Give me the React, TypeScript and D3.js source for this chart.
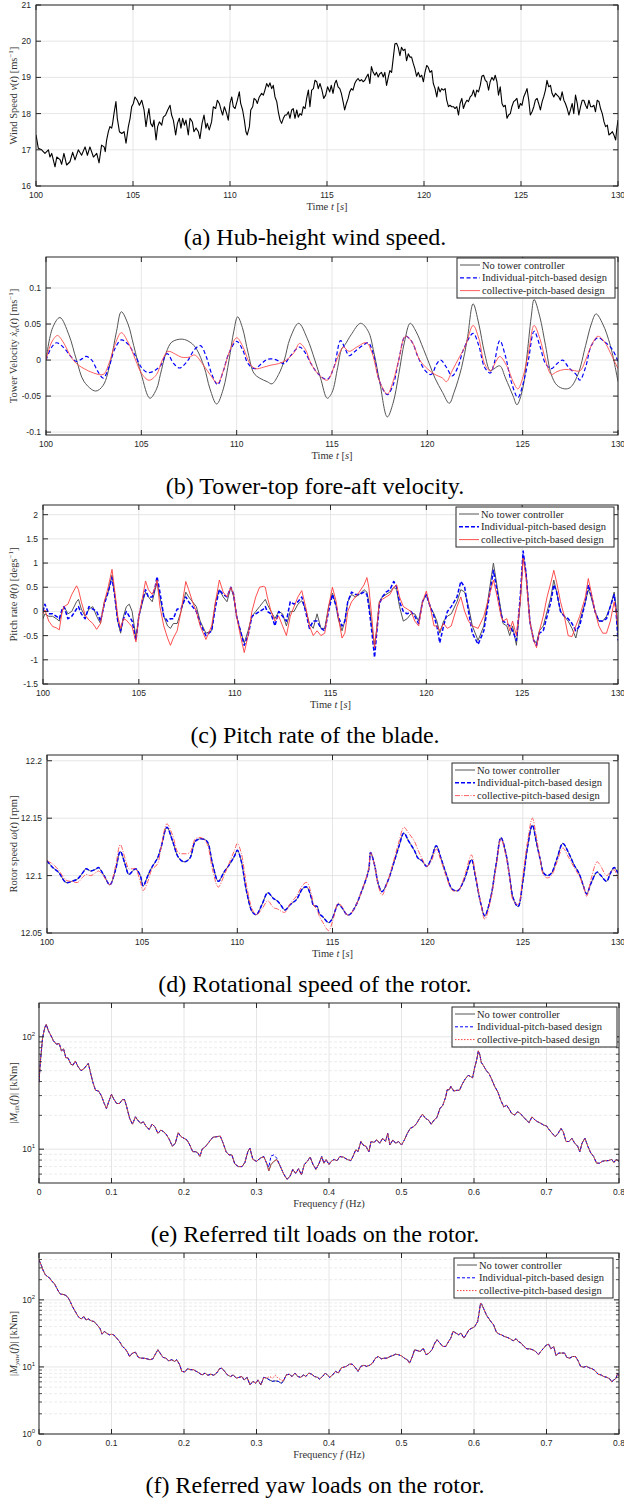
import React from 'react';
import * as d3 from 'd3';

type Pt = [number, number];

// (a) hub-height wind speed, [time s, speed m/s]
const windSpeed: Pt[] = [
  [100.0, 17.41], [100.12, 17.04], [100.29, 17.0], [100.46, 16.9], [100.64, 17.0], [100.72, 16.8], [100.81, 16.9], [100.98, 16.53],
  [101.07, 16.8], [101.24, 16.73], [101.32, 16.6], [101.44, 16.9], [101.58, 16.58], [101.75, 16.67], [101.89, 16.93], [102.01, 16.72],
  [102.18, 17.0], [102.35, 16.85], [102.53, 17.08], [102.65, 16.85], [102.78, 17.08], [102.96, 16.8], [103.13, 16.9], [103.25, 16.64],
  [103.38, 17.13], [103.51, 17.08], [103.57, 16.95], [103.64, 17.27], [103.73, 17.5], [103.81, 17.64], [103.9, 17.6], [103.95, 17.73],
  [104.02, 18.0], [104.12, 18.33], [104.19, 17.87], [104.3, 17.5], [104.42, 17.45], [104.54, 17.5], [104.64, 17.18], [104.76, 17.64],
  [104.85, 17.87], [104.93, 18.19], [105.02, 18.28], [105.1, 18.46], [105.22, 18.37], [105.33, 18.23], [105.45, 18.37], [105.57, 18.1],
  [105.67, 17.64], [105.74, 17.9], [105.82, 18.14], [105.91, 17.73], [106.01, 17.64], [106.08, 17.82], [106.19, 17.27], [106.27, 17.64],
  [106.36, 17.77], [106.48, 17.68], [106.56, 17.9], [106.68, 17.96], [106.79, 18.1], [106.91, 18.23], [106.99, 17.96], [107.08, 17.82],
  [107.2, 17.41], [107.29, 17.73], [107.39, 17.87], [107.47, 17.6], [107.56, 17.87], [107.65, 17.68], [107.73, 17.82], [107.85, 17.41],
  [107.94, 17.87], [108.06, 17.77], [108.14, 17.5], [108.25, 17.6], [108.37, 17.5], [108.45, 17.31], [108.56, 17.73], [108.66, 17.96],
  [108.76, 17.6], [108.83, 17.73], [108.93, 17.55], [109.05, 17.77], [109.14, 18.19], [109.26, 18.14], [109.35, 18.37], [109.45, 18.28],
  [109.54, 18.1], [109.62, 17.96], [109.71, 18.19], [109.83, 18.0], [109.91, 17.82], [110.0, 18.28], [110.09, 18.46], [110.17, 18.19],
  [110.26, 18.14], [110.38, 18.37], [110.48, 18.6], [110.55, 18.28], [110.65, 18.1], [110.74, 17.82], [110.82, 17.5], [110.89, 17.41],
  [111.0, 17.64], [111.07, 18.1], [111.17, 18.19], [111.24, 18.42], [111.34, 18.37], [111.41, 18.28], [111.51, 18.46], [111.63, 18.56],
  [111.72, 18.51], [111.8, 18.65], [111.89, 18.83], [111.98, 18.74], [112.06, 18.85], [112.15, 18.69], [112.23, 18.78], [112.32, 18.46],
  [112.41, 18.33], [112.49, 18.05], [112.58, 17.82], [112.66, 17.73], [112.75, 17.87], [112.84, 17.96], [112.92, 17.96], [113.01, 18.05],
  [113.09, 17.87], [113.18, 18.1], [113.26, 18.14], [113.35, 17.87], [113.44, 18.1], [113.52, 17.9], [113.61, 18.0], [113.69, 17.96],
  [113.78, 18.19], [113.87, 18.14], [113.95, 18.42], [114.04, 18.65], [114.12, 18.19], [114.21, 18.65], [114.3, 18.69], [114.38, 18.92],
  [114.47, 18.88], [114.55, 18.69], [114.64, 18.83], [114.74, 18.65], [114.83, 18.42], [114.93, 18.51], [115.03, 18.74], [115.14, 18.6],
  [115.22, 18.78], [115.31, 18.56], [115.4, 18.83], [115.48, 18.92], [115.57, 18.74], [115.66, 18.69], [115.74, 18.56], [115.83, 18.33],
  [115.91, 18.1], [116.0, 18.28], [116.09, 18.42], [116.17, 18.6], [116.26, 18.69], [116.34, 18.65], [116.43, 18.83], [116.52, 18.92],
  [116.6, 18.97], [116.69, 18.9], [116.78, 18.94], [116.86, 18.88], [116.95, 18.92], [117.03, 19.01], [117.12, 19.09], [117.21, 18.83],
  [117.29, 19.3], [117.38, 19.14], [117.47, 19.06], [117.55, 19.14], [117.64, 19.01], [117.72, 19.1], [117.81, 19.14], [117.9, 19.01],
  [117.98, 19.14], [118.07, 18.78], [118.16, 19.01], [118.24, 19.19], [118.33, 19.14], [118.41, 19.51], [118.5, 19.93], [118.59, 19.94],
  [118.67, 19.83], [118.76, 19.6], [118.84, 19.83], [118.93, 19.74], [119.02, 19.78], [119.1, 19.46], [119.19, 19.65], [119.28, 19.56],
  [119.36, 19.56], [119.45, 19.38], [119.53, 19.24], [119.62, 19.03], [119.71, 19.14], [119.79, 19.01], [119.88, 19.06], [119.97, 18.88],
  [120.05, 19.14], [120.14, 19.33], [120.22, 19.28], [120.31, 19.14], [120.4, 19.19], [120.48, 18.83], [120.57, 18.69], [120.66, 18.46],
  [120.74, 18.74], [120.83, 18.6], [120.91, 18.69], [121.0, 18.65], [121.09, 18.69], [121.17, 18.37], [121.26, 18.19], [121.34, 18.23],
  [121.43, 18.19], [121.52, 18.19], [121.6, 18.14], [121.69, 18.19], [121.78, 17.96], [121.86, 18.28], [121.95, 18.42], [122.03, 18.14],
  [122.12, 18.28], [122.21, 18.37], [122.29, 18.33], [122.38, 18.46], [122.47, 18.51], [122.55, 18.65], [122.64, 18.46], [122.72, 18.65],
  [122.81, 18.6], [122.9, 18.78], [122.98, 19.03], [123.07, 19.06], [123.16, 18.92], [123.24, 18.88], [123.33, 18.65], [123.41, 18.88],
  [123.5, 19.0], [123.59, 18.92], [123.67, 19.06], [123.76, 18.88], [123.84, 18.51], [123.93, 18.74], [124.02, 18.28], [124.1, 18.19],
  [124.19, 18.23], [124.28, 17.87], [124.36, 17.96], [124.45, 18.0], [124.53, 18.19], [124.62, 18.33], [124.71, 18.37], [124.79, 18.42],
  [124.88, 18.14], [124.97, 18.28], [125.05, 18.23], [125.14, 18.46], [125.22, 18.56], [125.31, 18.69], [125.4, 18.37], [125.48, 17.96],
  [125.57, 18.05], [125.66, 18.19], [125.74, 18.37], [125.83, 18.42], [125.91, 18.28], [126.0, 18.1], [126.09, 18.33], [126.17, 18.46],
  [126.26, 18.65], [126.34, 18.92], [126.43, 18.74], [126.52, 18.78], [126.6, 18.56], [126.69, 18.46], [126.78, 18.56], [126.86, 18.51],
  [126.95, 18.46], [127.03, 18.37], [127.12, 18.6], [127.21, 18.37], [127.29, 18.28], [127.38, 18.14], [127.47, 17.96], [127.55, 18.1],
  [127.64, 18.28], [127.72, 18.0], [127.81, 18.51], [127.9, 18.28], [127.98, 17.96], [128.07, 18.19], [128.16, 18.37], [128.24, 18.37],
  [128.33, 18.23], [128.41, 18.14], [128.5, 18.37], [128.59, 18.19], [128.67, 18.19], [128.76, 18.23], [128.84, 18.05], [128.93, 18.37],
  [129.02, 18.33], [129.1, 18.14], [129.19, 18.0], [129.28, 17.77], [129.36, 17.64], [129.45, 17.68], [129.53, 17.41], [129.62, 17.45],
  [129.71, 17.5], [129.79, 17.41], [129.88, 17.27], [129.93, 17.55], [130.0, 17.82],
];

// (b) tower-top fore-aft velocity, [time s, m/s]
const towerNoCtrl: Pt[] = [
  [100, 0], [100.35, 0.045], [100.73, 0.059], [101.2, 0.035], [101.6, 0], [102, -0.03], [102.6, -0.043], [103, -0.035],
  [103.4, 0], [103.7, 0.04], [103.95, 0.067], [104.3, 0.05], [104.6, 0.02], [105, -0.02], [105.45, -0.053], [105.8, -0.04],
  [106, -0.02], [106.3, 0.01], [106.6, 0.025], [107.15, 0.029], [107.6, 0.024], [107.9, 0.015], [108.3, -0.01], [108.6, -0.04],
  [108.95, -0.061], [109.3, -0.04], [109.6, 0], [109.85, 0.04], [110.05, 0.06], [110.3, 0.045], [110.6, 0.01], [110.9, -0.018],
  [111.2, -0.025], [111.6, -0.03], [111.85, -0.033], [112.2, -0.02], [112.5, 0], [112.8, 0.03], [113.25, 0.051], [113.7, 0.03],
  [114.1, 0], [114.4, -0.025], [114.75, -0.053], [115, -0.045], [115.3, -0.01], [115.5, 0.015], [115.7, 0.022], [116, 0.035],
  [116.5, 0.051], [116.9, 0.04], [117.2, 0.01], [117.5, -0.03], [117.9, -0.079], [118.2, -0.06], [118.5, -0.02], [118.8, 0.025],
  [119.1, 0.051], [119.4, 0.04], [119.8, 0.015], [120.1, -0.005], [120.4, -0.025], [120.8, -0.045], [121.15, -0.06], [121.4, -0.045],
  [121.8, -0.01], [122.1, 0.03], [122.4, 0.078], [122.7, 0.05], [123, 0.01], [123.3, -0.015], [123.5, -0.012], [123.8, -0.008],
  [124.1, -0.025], [124.5, -0.05], [124.7, -0.062], [125, -0.04], [125.2, 0], [125.45, 0.06], [125.6, 0.084], [125.9, 0.06],
  [126.2, 0.02], [126.5, -0.02], [126.8, -0.035], [127.2, -0.04], [127.5, -0.038], [127.9, -0.02], [128.3, 0.02], [128.6, 0.05],
  [128.85, 0.064], [129.2, 0.05], [129.6, 0.02], [130, -0.03],
];
const towerIndividual: Pt[] = [
  [100, 0], [100.3, 0.018], [100.55, 0.024], [100.9, 0.018], [101.3, 0.005], [101.6, -0.002], [101.9, 0.002], [102.1, 0.005],
  [102.4, 0], [102.7, -0.015], [103, -0.025], [103.3, -0.01], [103.6, 0.015], [103.95, 0.028], [104.3, 0.022], [104.7, 0.005],
  [105, -0.01], [105.3, -0.017], [105.6, -0.016], [106, -0.008], [106.35, 0.009], [106.7, -0.005], [107, -0.011], [107.4, -0.002],
  [107.8, 0.015], [108.1, 0.02], [108.4, 0.005], [108.7, -0.02], [109, -0.034], [109.3, -0.015], [109.6, 0.01], [110, 0.026],
  [110.3, 0.015], [110.6, -0.005], [110.95, -0.012], [111.3, -0.005], [111.6, 0.001], [112, 0.001], [112.3, -0.003], [112.5, -0.005],
  [112.8, 0.005], [113.3, 0.018], [113.6, 0.01], [113.9, -0.005], [114.3, -0.02], [114.75, -0.027], [115.1, -0.01], [115.45, 0.027],
  [115.7, 0.015], [115.9, 0.006], [116.2, 0.012], [116.6, 0.02], [116.9, 0.024], [117.2, 0.005], [117.5, -0.03], [117.9, -0.048],
  [118.2, -0.035], [118.5, 0], [118.85, 0.033], [119.2, 0.025], [119.5, 0.005], [119.9, -0.015], [120.2, -0.02], [120.5, -0.005],
  [120.7, 0], [121, -0.01], [121.3, -0.022], [121.6, -0.01], [121.9, 0.015], [122.4, 0.037], [122.7, 0.02], [123, -0.01],
  [123.3, -0.018], [123.5, -0.005], [123.8, 0.027], [124.1, 0.005], [124.4, -0.03], [124.75, -0.052], [125, -0.035], [125.3, 0],
  [125.6, 0.04], [125.9, 0.02], [126.2, -0.005], [126.5, -0.012], [126.8, -0.005], [127.1, 0], [127.4, -0.01], [127.8, -0.02],
  [128, -0.028], [128.3, -0.01], [128.6, 0.02], [128.95, 0.031], [129.3, 0.025], [129.7, 0.015], [130, -0.002],
];
const towerCollective: Pt[] = [
  [100, 0], [100.3, 0.025], [100.6, 0.034], [100.9, 0.025], [101.3, 0.005], [101.6, -0.005], [102, -0.012], [102.5, -0.018],
  [103, -0.02], [103.3, -0.005], [103.6, 0.02], [103.95, 0.038], [104.3, 0.025], [104.7, 0], [105, -0.018], [105.4, -0.028],
  [105.8, -0.02], [106.1, 0], [106.4, 0.012], [106.8, 0.008], [107.1, 0.004], [107.5, 0.004], [107.8, 0.007], [108.2, -0.005],
  [108.6, -0.02], [109, -0.032], [109.3, -0.015], [109.6, 0.01], [110, 0.031], [110.3, 0.02], [110.7, -0.005], [111, -0.012],
  [111.4, -0.01], [111.8, -0.007], [112.2, -0.005], [112.6, 0], [113, 0.01], [113.3, 0.023], [113.6, 0.015], [113.9, -0.005],
  [114.3, -0.02], [114.75, -0.028], [115.1, -0.01], [115.4, 0.01], [115.6, 0.018], [115.9, 0.012], [116.3, 0.018], [116.8, 0.024],
  [117.1, 0.01], [117.5, -0.03], [117.9, -0.047], [118.2, -0.03], [118.5, 0], [118.85, 0.033], [119.2, 0.025], [119.6, 0],
  [120, -0.012], [120.4, -0.02], [120.8, -0.025], [121, -0.03], [121.3, -0.015], [121.7, 0.005], [122, 0.02], [122.4, 0.048],
  [122.7, 0.03], [123, -0.005], [123.3, -0.015], [123.6, -0.002], [123.8, 0.005], [124.2, -0.01], [124.5, -0.03], [124.75, -0.04],
  [125, -0.025], [125.3, 0.01], [125.6, 0.048], [125.9, 0.03], [126.2, 0], [126.5, -0.02], [126.8, -0.016], [127.2, -0.013],
  [127.6, -0.014], [128, -0.015], [128.3, 0], [128.6, 0.02], [128.95, 0.033], [129.3, 0.025], [129.6, 0.01], [130, -0.012],
];

// (c) blade pitch rate, deg/s
const pitchTime = [
  100.0, 100.1, 100.3, 100.5, 100.7, 100.85, 101.0, 101.1, 101.3, 101.5,
  101.75, 101.85, 102.0, 102.2, 102.4, 102.6, 102.8, 103.0, 103.2, 103.4,
  103.6, 103.75, 103.9, 104.05, 104.2, 104.35, 104.5, 104.65, 104.85, 105.0,
  105.2, 105.35, 105.5, 105.7, 105.85, 105.95, 106.1, 106.3, 106.5, 106.65,
  106.8, 107.0, 107.2, 107.45, 107.6, 107.8, 108.0, 108.2, 108.5, 108.8,
  109.0, 109.2, 109.4, 109.6, 109.8, 109.95, 110.1, 110.3, 110.5, 110.7,
  110.9, 111.1, 111.3, 111.5, 111.6, 111.7, 111.9, 112.1, 112.3, 112.5,
  112.7, 112.9, 113.1, 113.3, 113.5, 113.7, 113.9, 114.1, 114.3, 114.5,
  114.7, 114.9, 115.1, 115.3, 115.4, 115.6, 115.75, 115.9, 116.1, 116.3,
  116.5, 116.75, 116.9, 117.0, 117.15, 117.3, 117.4, 117.55, 117.7, 117.9,
  118.1, 118.3, 118.45, 118.6, 118.8, 119.0, 119.2, 119.4, 119.6, 119.8,
  120.0, 120.2, 120.4, 120.55, 120.7, 120.9, 121.1, 121.3, 121.6, 121.8,
  122.0, 122.2, 122.4, 122.7, 123.0, 123.2, 123.5, 123.7, 123.9, 124.0,
  124.2, 124.35, 124.5, 124.7, 124.9, 125.05, 125.2, 125.4, 125.6, 125.75,
  125.9, 126.1, 126.3, 126.5, 126.65, 126.8, 127.0, 127.2, 127.4, 127.6,
  127.8, 128.0, 128.3, 128.45, 128.6, 128.8, 129.0, 129.2, 129.4, 129.6,
  129.8, 129.9, 130.0,
];
const pitchNoCtrl = [
  -0.15, -0.05, -0.1, -0.1, -0.15, -0.2, 0.0, 0.1, -0.05, 0.0,
  0.2, 0.25, 0.05, -0.1, 0.05, 0.1, -0.1, -0.25, 0.2, 0.4,
  0.75, 0.3, -0.2, -0.45, -0.1, 0.1, 0.15, 0.0, -0.55, -0.1,
  0.2, 0.4, 0.3, 0.2, 0.45, 0.6, 0.3, -0.1, -0.3, -0.35,
  -0.25, -0.25, 0.0, 0.4, 0.3, 0.2, 0.1, -0.2, -0.45, -0.4,
  0.2, 0.45, 0.3, 0.2, 0.5, 0.3, -0.1, -0.4, -0.65, -0.4,
  -0.1, 0.0, 0.1, 0.2, 0.25, 0.15, 0.0, -0.15, 0.0, -0.05,
  -0.3, 0.0, 0.0, 0.15, 0.22, 0.05, -0.25, -0.35, -0.05, -0.35,
  -0.35, 0.1, 0.38, 0.1, -0.15, -0.4, -0.2, 0.2, 0.35, 0.3,
  0.35, 0.45, 0.4, 0.2, -0.3, -0.7, -0.4, 0.2, 0.3, 0.35,
  0.4, 0.5, 0.45, 0.1, -0.2, -0.15, -0.05, -0.05, -0.2, 0.2,
  0.35, 0.1, -0.05, -0.2, -0.45, -0.2, -0.1, -0.05, 0.2, 0.45,
  0.4, 0.1, -0.3, -0.6, -0.3, 0.2, 1.0, 0.5, 0.0, -0.25,
  -0.3, -0.5, -0.3, -0.7, 0.2, 1.15, 0.8, -0.2, -0.6, -0.65,
  -0.4, -0.3, 0.0, 0.3, 0.65, 0.4, 0.0, -0.1, -0.2, -0.35,
  -0.55, -0.2, 0.2, 0.45, 0.3, 0.0, -0.2, -0.2, -0.1, 0.1,
  0.4, 0.1, -0.5,
];
const pitchIndividual = [
  0.0, 0.15, -0.05, -0.05, -0.1, -0.15, 0.05, 0.1, -0.15, -0.1,
  0.05, 0.1, -0.05, -0.15, 0.1, 0.05, 0.0, -0.2, 0.15, 0.4,
  0.7, 0.3, -0.2, -0.4, -0.15, 0.0, -0.1, -0.2, -0.6, -0.1,
  0.25, 0.45, 0.3, 0.3, 0.5, 0.72, 0.4, -0.1, -0.2, -0.15,
  -0.15, 0.05, 0.05, 0.3, 0.2, 0.1, 0.0, -0.25, -0.5, -0.4,
  0.1, 0.45, 0.35, 0.3, 0.5, 0.35, -0.1, -0.4, -0.7, -0.5,
  -0.1, -0.05, 0.0, 0.05, 0.1, 0.0, -0.05, -0.3, 0.0, -0.1,
  -0.2, 0.2, 0.15, 0.2, 0.3, 0.0, -0.35, -0.2, -0.2, -0.35,
  -0.4, 0.0, 0.35, 0.1, -0.1, -0.3, -0.2, 0.2, 0.4, 0.35,
  0.35, 0.4, 0.35, 0.1, -0.4, -0.95, -0.5, 0.15, 0.3, 0.4,
  0.45, 0.62, 0.5, 0.2, 0.0, -0.05, 0.0, -0.1, -0.25, 0.2,
  0.35, 0.1, -0.1, -0.3, -0.65, -0.3, 0.0, 0.1, 0.3, 0.62,
  0.5, 0.0, -0.45, -0.68, -0.4, 0.1, 0.85, 0.4, -0.05, -0.2,
  -0.25, -0.3, -0.4, -0.6, 0.3, 1.25, 0.8, -0.2, -0.6, -0.7,
  -0.45, -0.4, -0.1, 0.2, 0.55, 0.4, 0.0, -0.1, -0.15, -0.25,
  -0.4, -0.3, 0.2, 0.55, 0.35, 0.0, -0.2, -0.2, -0.15, 0.1,
  0.35, 0.0, -0.6,
];
const pitchCollective = [
  -0.05, 0.03, -0.2, -0.31, -0.34, -0.38, 0.0, 0.1, 0.15, 0.35,
  0.53, 0.45, 0.2, -0.08, -0.18, -0.25, -0.37, -0.25, 0.2, 0.5,
  0.87, 0.4, -0.1, -0.35, -0.15, -0.18, -0.25, -0.32, -0.63, -0.1,
  0.3, 0.63, 0.45, 0.35, 0.5, 0.65, 0.1, -0.3, -0.55, -0.7,
  -0.55, -0.4, 0.0, 0.62, 0.45, 0.2, 0.0, -0.3, -0.58, -0.3,
  0.2, 0.65, 0.4, 0.3, 0.5, 0.35, -0.1, -0.5, -0.85, -0.5,
  0.0, 0.3, 0.5, 0.52, 0.5, 0.3, 0.0, -0.2, -0.1, -0.3,
  -0.5, -0.1, 0.1, 0.3, 0.43, 0.1, -0.3, -0.5, -0.4, -0.5,
  -0.45, 0.1, 0.5, 0.2, -0.1, -0.55, -0.45, 0.0, 0.2, 0.3,
  0.4, 0.55, 0.7, 0.5, -0.1, -0.75, -0.4, 0.2, 0.25, 0.3,
  0.35, 0.5, 0.55, 0.3, 0.1, 0.05, 0.0, -0.2, -0.3, 0.2,
  0.42, 0.1, -0.3, -0.3, -0.4, -0.25, -0.35, -0.3, 0.1, 0.3,
  0.0, -0.2, -0.3, -0.35, -0.1, 0.2, 0.65, 0.3, -0.1, -0.2,
  -0.15, -0.4, -0.2, -0.5, 0.2, 1.1, 0.7, -0.2, -0.6, -0.75,
  -0.4, -0.1, 0.3, 0.6, 0.85, 0.6, 0.2, -0.1, -0.5, -0.52,
  -0.3, -0.1, 0.3, 0.68, 0.4, 0.0, -0.3, -0.45, -0.45, -0.2,
  0.2, 0.0, -0.3,
];

// (d) rotor speed, rpm (no-controller trace coincides with the individual-pitch one)
const rotorTime = [
  100.0, 100.3, 100.6, 101.0, 101.3, 101.6, 101.9, 102.05, 102.3, 102.6,
  102.7, 103.0, 103.3, 103.6, 103.85, 104.1, 104.3, 104.5, 104.65, 104.9,
  105.05, 105.3, 105.5, 105.8, 106.0, 106.3, 106.6, 106.9, 107.2, 107.5,
  107.8, 108.1, 108.4, 108.7, 109.0, 109.3, 109.6, 109.85, 110.0, 110.2,
  110.5, 110.8, 111.0, 111.3, 111.6, 111.9, 112.1, 112.3, 112.5, 112.8,
  113.1, 113.45, 113.65, 113.9, 114.0, 114.2, 114.3, 114.5, 114.8, 115.0,
  115.3, 115.5, 115.75, 115.9, 116.2, 116.5, 116.9, 117.0, 117.2, 117.4,
  117.6, 117.9, 118.2, 118.5, 118.75, 119.0, 119.3, 119.5, 119.7, 119.95,
  120.2, 120.45, 120.7, 121.0, 121.3, 121.6, 121.8, 122.0, 122.3, 122.5,
  122.8, 123.0, 123.3, 123.6, 123.85, 124.1, 124.3, 124.5, 124.75, 125.0,
  125.25, 125.5, 125.7, 125.9, 126.1, 126.3, 126.5, 126.8, 127.1, 127.4,
  127.7, 127.95, 128.2, 128.35, 128.6, 128.9, 129.1, 129.4, 129.6, 129.8,
  130.0,
];
const rotorIndividual = [
  12.113, 12.107, 12.103, 12.094, 12.095, 12.097, 12.103, 12.106, 12.104, 12.106,
  12.107, 12.1, 12.092, 12.105, 12.121, 12.11, 12.101, 12.104, 12.106, 12.1,
  12.091, 12.1, 12.107, 12.115, 12.125, 12.142, 12.13, 12.116, 12.112, 12.115,
  12.13, 12.132, 12.13, 12.11, 12.095, 12.103, 12.11, 12.117, 12.122, 12.113,
  12.085, 12.068, 12.066, 12.075, 12.085, 12.08, 12.078, 12.074, 12.07, 12.075,
  12.079, 12.089, 12.09, 12.08, 12.074, 12.073, 12.067, 12.064, 12.059, 12.063,
  12.075, 12.072, 12.066, 12.066, 12.073, 12.085, 12.105, 12.12, 12.11, 12.093,
  12.086, 12.095, 12.11, 12.126, 12.137, 12.13, 12.122, 12.115, 12.113, 12.108,
  12.115, 12.126, 12.115, 12.1, 12.088, 12.087, 12.092, 12.1, 12.114, 12.1,
  12.075, 12.065, 12.08, 12.11, 12.133, 12.12, 12.1, 12.08, 12.073, 12.095,
  12.125, 12.144, 12.13, 12.115, 12.102, 12.1, 12.102, 12.115, 12.128, 12.12,
  12.109, 12.102, 12.09, 12.084, 12.094, 12.103, 12.1, 12.095, 12.102, 12.107,
  12.102,
];
const rotorNoCtrl = rotorIndividual;
const rotorCollective = [
  12.113, 12.11, 12.105, 12.096, 12.095, 12.094, 12.099, 12.101, 12.1, 12.103,
  12.104, 12.099, 12.092, 12.108, 12.127, 12.115, 12.106, 12.106, 12.106, 12.095,
  12.087, 12.095, 12.105, 12.11, 12.125, 12.145, 12.135, 12.12, 12.119, 12.12,
  12.132, 12.133, 12.128, 12.105, 12.09, 12.1, 12.112, 12.122, 12.128, 12.12,
  12.09, 12.07, 12.066, 12.071, 12.078, 12.072, 12.071, 12.069, 12.068, 12.076,
  12.082, 12.092, 12.094, 12.083, 12.075, 12.07, 12.065, 12.059, 12.052, 12.06,
  12.076, 12.073, 12.066, 12.066, 12.073, 12.085, 12.106, 12.12, 12.11, 12.092,
  12.083, 12.095, 12.112, 12.13, 12.142, 12.137, 12.13, 12.122, 12.115, 12.108,
  12.113, 12.123, 12.113, 12.098, 12.087, 12.087, 12.093, 12.103, 12.118, 12.102,
  12.075, 12.062, 12.078, 12.108, 12.132, 12.118, 12.1, 12.078, 12.075, 12.1,
  12.13, 12.15, 12.135, 12.115, 12.1, 12.098, 12.1, 12.112, 12.124, 12.116,
  12.107, 12.1, 12.09, 12.082, 12.098, 12.112, 12.108, 12.1, 12.103, 12.105,
  12.097,
];

// (e) tilt load spectrum, [f Hz, kNm]
const tiltNoCtrl: Pt[] = [
  [0, 39.5], [0.002, 61], [0.005, 98.6], [0.008, 121], [0.01, 129], [0.013, 113], [0.015, 107], [0.02, 92],
  [0.024, 86], [0.028, 87], [0.031, 75], [0.034, 78], [0.037, 65], [0.04, 65], [0.044, 57], [0.047, 56],
  [0.05, 61], [0.054, 54], [0.058, 50], [0.062, 52], [0.065, 55], [0.068, 58], [0.071, 48], [0.074, 40],
  [0.078, 33.4], [0.082, 33], [0.086, 30], [0.09, 25.5], [0.093, 23], [0.096, 26.3], [0.1, 30.8], [0.103, 28],
  [0.107, 25.5], [0.111, 25.5], [0.115, 27.6], [0.118, 27.6], [0.121, 23.8], [0.125, 18.8], [0.129, 16.7], [0.133, 19.4],
  [0.136, 18.2], [0.14, 17], [0.144, 17.5], [0.148, 15.8], [0.152, 15], [0.156, 16.7], [0.16, 15.8], [0.164, 13.8],
  [0.168, 14.8], [0.172, 14.3], [0.176, 13.4], [0.18, 12.1], [0.184, 10.6], [0.188, 11.3], [0.192, 14], [0.196, 12.9],
  [0.2, 12.5], [0.204, 12.1], [0.208, 10.9], [0.212, 9.5], [0.216, 9.5], [0.219, 9.3], [0.222, 8.6], [0.225, 10],
  [0.23, 10.6], [0.235, 11.7], [0.24, 12.8], [0.245, 12.9], [0.25, 13.1], [0.254, 11.3], [0.258, 9.5], [0.262, 8.9],
  [0.266, 8.9], [0.27, 7.4], [0.275, 7], [0.28, 7], [0.284, 7.6], [0.288, 9.5], [0.291, 10.2], [0.295, 8.1],
  [0.3, 7.8], [0.305, 8.3], [0.31, 8.6], [0.314, 7.5], [0.317, 6.4], [0.32, 7.3], [0.324, 7.8], [0.328, 8.1],
  [0.333, 7], [0.337, 6.1], [0.342, 5.4], [0.346, 5.7], [0.35, 6.6], [0.354, 6.1], [0.358, 6.7], [0.362, 5.9],
  [0.366, 7.3], [0.37, 7.8], [0.374, 8.5], [0.378, 7.3], [0.382, 6.6], [0.386, 7.4], [0.39, 8.6], [0.393, 7.5],
  [0.396, 8.1], [0.4, 7.3], [0.403, 7.8], [0.407, 8.1], [0.411, 7.9], [0.415, 8.6], [0.42, 8.5], [0.425, 8.1],
  [0.43, 7.9], [0.433, 8.6], [0.437, 9.9], [0.44, 9.5], [0.444, 11.7], [0.447, 10.9], [0.451, 10.6], [0.455, 9.5],
  [0.458, 11.7], [0.462, 11.5], [0.466, 12.1], [0.47, 11.3], [0.474, 12.5], [0.478, 11.7], [0.481, 13.8], [0.484, 10.9],
  [0.488, 12.1], [0.492, 11.3], [0.496, 11.7], [0.5, 10.9], [0.504, 12.1], [0.508, 13.8], [0.512, 15.3], [0.517, 15.9],
  [0.521, 17], [0.525, 18.8], [0.529, 20.5], [0.533, 18.8], [0.537, 18.2], [0.541, 16.7], [0.545, 18.2], [0.549, 19.2],
  [0.553, 23], [0.557, 24.6], [0.561, 29.1], [0.563, 33.8], [0.566, 33.8], [0.568, 36.2], [0.572, 32.9], [0.576, 33.4],
  [0.58, 33.4], [0.584, 38.2], [0.588, 42.3], [0.592, 45.4], [0.595, 44.4], [0.598, 43.2], [0.601, 53.5], [0.604, 63.5],
  [0.606, 75], [0.608, 69.3], [0.61, 59.3], [0.613, 55.4], [0.617, 50.1], [0.621, 46.8], [0.625, 40.9], [0.629, 35.7],
  [0.633, 32.2], [0.637, 27.2], [0.641, 23.8], [0.645, 24.6], [0.648, 23], [0.652, 20.8], [0.656, 20.1], [0.66, 21.5],
  [0.664, 20.8], [0.668, 19.4], [0.672, 18.2], [0.676, 17.2], [0.68, 19.4], [0.684, 18.2], [0.688, 17.5], [0.692, 17],
  [0.696, 16.4], [0.7, 16.1], [0.704, 14.8], [0.708, 13.8], [0.712, 12.9], [0.716, 13.8], [0.72, 15.3], [0.723, 14.3],
  [0.727, 11.7], [0.731, 11.7], [0.735, 12.5], [0.739, 11.3], [0.743, 10.6], [0.746, 9.5], [0.749, 11.3], [0.753, 12.5],
  [0.757, 10.6], [0.761, 9.3], [0.765, 8.6], [0.769, 7.5], [0.773, 7.5], [0.777, 7.8], [0.781, 7.9], [0.785, 7.9],
  [0.79, 8.1], [0.793, 7.6], [0.796, 8.1], [0.8, 7.8],
];
// points where the individual-pitch trace leaves the others
const tiltIndividualDiff: Pt[] = [[0.317, 6.9], [0.32, 8.7], [0.324, 8.9], [0.328, 8.3]];

// (f) yaw load spectrum, [f Hz, kNm]
const yawNoCtrl: Pt[] = [
  [0, 394], [0.003, 332], [0.006, 270], [0.009, 235], [0.012, 222], [0.015, 210], [0.018, 188], [0.021, 177],
  [0.024, 153], [0.027, 133], [0.03, 121], [0.033, 121], [0.036, 118], [0.039, 112], [0.042, 100], [0.046, 80],
  [0.05, 67], [0.054, 56.5], [0.058, 52], [0.062, 56.5], [0.065, 50], [0.068, 52], [0.072, 48.6], [0.076, 47.5],
  [0.08, 42.4], [0.084, 37.8], [0.087, 30.8], [0.09, 33.8], [0.094, 31.5], [0.097, 30.1], [0.1, 30.8], [0.103, 30.1],
  [0.107, 26.9], [0.111, 24], [0.115, 20.2], [0.119, 18.6], [0.122, 16.6], [0.125, 14.3], [0.129, 16.1], [0.133, 16.6],
  [0.137, 13.9], [0.141, 13.5], [0.145, 13.5], [0.149, 13.2], [0.153, 12.8], [0.157, 13.2], [0.16, 15.2], [0.164, 18],
  [0.167, 16.1], [0.171, 13.9], [0.175, 13.5], [0.179, 12.3], [0.183, 12.8], [0.187, 12.1], [0.19, 12.8], [0.194, 10.8],
  [0.197, 8.6], [0.201, 8.4], [0.205, 9.4], [0.209, 9.1], [0.213, 9.1], [0.217, 8.6], [0.221, 8.1], [0.225, 7.6],
  [0.229, 8.1], [0.233, 7.5], [0.237, 7.8], [0.241, 7.5], [0.245, 8.1], [0.249, 9.4], [0.252, 9.6], [0.256, 8.6],
  [0.26, 7.6], [0.264, 7.2], [0.268, 7.6], [0.272, 6.8], [0.276, 7], [0.28, 7.2], [0.283, 6.4], [0.287, 7],
  [0.291, 5.4], [0.295, 6.1], [0.299, 5.7], [0.302, 6.4], [0.306, 5.4], [0.31, 7], [0.314, 6.8], [0.318, 7.2],
  [0.322, 6.8], [0.326, 7.5], [0.33, 6.8], [0.334, 6.4], [0.337, 6.1], [0.341, 7.6], [0.345, 7.8], [0.349, 7.2],
  [0.353, 8.1], [0.357, 7.2], [0.361, 7], [0.365, 7.6], [0.368, 7.2], [0.372, 8.1], [0.376, 7.8], [0.38, 7.2],
  [0.384, 7], [0.387, 6.6], [0.391, 7.2], [0.395, 8.1], [0.398, 7.5], [0.401, 7], [0.405, 7.6], [0.409, 8.6],
  [0.413, 8.1], [0.417, 9.7], [0.42, 9.9], [0.424, 10.2], [0.428, 11], [0.432, 11], [0.436, 9.9], [0.44, 8.6],
  [0.444, 10.2], [0.448, 10.6], [0.452, 10.2], [0.456, 10.6], [0.46, 11.4], [0.464, 13.5], [0.468, 14.3], [0.472, 13.2],
  [0.476, 13.5], [0.48, 13.5], [0.484, 14.3], [0.488, 14.8], [0.492, 15.5], [0.496, 15.2], [0.5, 14.6], [0.504, 13.5],
  [0.508, 12.8], [0.511, 11.4], [0.515, 14.3], [0.518, 18], [0.522, 17.5], [0.526, 17], [0.53, 19], [0.534, 15.2],
  [0.538, 16.1], [0.542, 18], [0.546, 22.7], [0.549, 25.4], [0.553, 22.7], [0.557, 20.2], [0.561, 20.2], [0.565, 24],
  [0.568, 26.9], [0.571, 33.9], [0.575, 32], [0.579, 30.1], [0.582, 32], [0.586, 26.9], [0.589, 30.1], [0.593, 35.8],
  [0.597, 37.8], [0.601, 40], [0.605, 47.5], [0.607, 63.3], [0.609, 89.5], [0.611, 84.5], [0.614, 71.1], [0.617, 59.9],
  [0.62, 53.3], [0.624, 46.4], [0.627, 42.4], [0.631, 32.9], [0.635, 30.8], [0.638, 30.1], [0.642, 28.4], [0.646, 27.5],
  [0.65, 26.3], [0.654, 24.5], [0.658, 26.3], [0.661, 24], [0.665, 22.7], [0.669, 20.2], [0.673, 18.6], [0.677, 18.6],
  [0.681, 18], [0.685, 17], [0.689, 15.2], [0.692, 17], [0.696, 19], [0.7, 21.3], [0.703, 21.8], [0.706, 18.6],
  [0.71, 20.2], [0.713, 14.8], [0.717, 16.1], [0.721, 16.1], [0.725, 16.1], [0.728, 13.9], [0.732, 13.5], [0.736, 14.3],
  [0.74, 14.3], [0.744, 12.1], [0.747, 10.2], [0.751, 9.9], [0.755, 10.2], [0.759, 9.7], [0.763, 9.4], [0.767, 8.8],
  [0.771, 7.8], [0.775, 7.6], [0.779, 7.2], [0.783, 7], [0.787, 6.7], [0.79, 6], [0.793, 6.4], [0.796, 6.8],
  [0.798, 8.1], [0.8, 7.2],
];
const yawIndividualDiff: Pt[] = [[0.318, 6.4], [0.322, 6.1], [0.326, 6.2], [0.33, 6.1], [0.334, 5.7]];

const timeTicks = [100, 105, 110, 115, 120, 125, 130];
const freqTicks = [0, 0.1, 0.2, 0.3, 0.4, 0.5, 0.6, 0.7, 0.8];
const windTicks = [16, 17, 18, 19, 20, 21];
const towerTicks = [-0.1, -0.05, 0, 0.05, 0.1];
const pitchTicks = [-1.5, -1, -0.5, 0, 0.5, 1, 1.5, 2];
const rotorTicks = [12.05, 12.1, 12.15, 12.2];
const tiltTicks = [10, 100];
const yawTicks = [1, 10, 100];
const legendLabels = ['No tower controller', 'Individual-pitch-based design', 'collective-pitch-based design'];

const SANS = "'Liberation Sans', Arial, Helvetica, sans-serif";
const SERIF = "'Liberation Serif', 'Times New Roman', serif";
const AXIS = '#262626';
const GRID = '#dfdfdf';

const zip = (t: number[], v: number[]): Pt[] => t.map((d, i) => [d, v[i]]);
const patch = (base: Pt[], diff: Pt[]): Pt[] =>
  base.map(([f, v]) => {
    const m = diff.find(p => p[0] === f);
    return [f, m ? m[1] : v] as Pt;
  });

interface SeriesSpec {
  data: Pt[];
  color: string;
  width: number;
  dash?: string;
  label?: string;
}

interface PanelSpec {
  id: string;
  top: number;
  bottom: number;
  left: number;
  right: number;
  xDomain: [number, number];
  yDomain: [number, number];
  xTicks: number[];
  yTicks: number[];
  log?: boolean;
  curve?: d3.CurveFactory;
  yLabel: React.ReactNode;
  xLabel: React.ReactNode;
  caption: string;
  series: SeriesSpec[];
  legend?: { x: number; y: number; w: number };
}

function Panel({ p }: { p: PanelSpec }) {
  const { top, bottom, left, right } = p;
  const x = d3.scaleLinear().domain(p.xDomain).range([left, right]);
  const y = p.log
    ? d3.scaleLog().domain(p.yDomain).range([bottom, top])
    : d3.scaleLinear().domain(p.yDomain).range([bottom, top]);
  const line = d3
    .line<Pt>()
    .x(d => x(d[0]))
    .y(d => y(d[1]))
    .curve(p.curve || d3.curveLinear);

  // minor log ticks 2..9 per decade inside the domain
  const minor: number[] = [];
  if (p.log) {
    const lo = Math.floor(Math.log10(p.yDomain[0]));
    const hi = Math.ceil(Math.log10(p.yDomain[1]));
    for (let k = lo; k <= hi; k++)
      for (let m = 2; m <= 9; m++) {
        const v = m * Math.pow(10, k);
        if (v > p.yDomain[0] && v < p.yDomain[1]) minor.push(v);
      }
  }
  const tl = 5;
  const cy = (top + bottom) / 2;
  const cx = (left + right) / 2;

  return (
    <g>
      <defs>
        <clipPath id={p.id}>
          <rect x={left} y={top} width={right - left} height={bottom - top} />
        </clipPath>
      </defs>
      <rect x={left} y={top} width={right - left} height={bottom - top} fill="#fff" />
      {minor.map(v => (
        <line key={'mg' + v} x1={left} x2={right} y1={y(v)} y2={y(v)} stroke="#e4e4e4" strokeWidth={0.7} strokeDasharray="3,2" />
      ))}
      {p.xTicks.map(v => (
        <line key={'xg' + v} x1={x(v)} x2={x(v)} y1={top} y2={bottom} stroke={GRID} strokeWidth={0.8} />
      ))}
      {p.yTicks.map(v => (
        <line key={'yg' + v} x1={left} x2={right} y1={y(v)} y2={y(v)} stroke={GRID} strokeWidth={0.8} />
      ))}
      <g clipPath={`url(#${p.id})`}>
        {p.series.map((s, i) => (
          <path
            key={i}
            d={line(s.data) || ''}
            fill="none"
            stroke={s.color}
            strokeWidth={s.width}
            strokeDasharray={s.dash}
            strokeLinejoin="round"
          />
        ))}
      </g>
      <rect x={left} y={top} width={right - left} height={bottom - top} fill="none" stroke={AXIS} strokeWidth={1} />
      {p.xTicks.map(v => (
        <g key={'xt' + v}>
          <line x1={x(v)} x2={x(v)} y1={bottom} y2={bottom - tl} stroke={AXIS} />
          <line x1={x(v)} x2={x(v)} y1={top} y2={top + tl} stroke={AXIS} />
          <text x={x(v)} y={bottom + 12} textAnchor="middle" fontFamily={SANS} fontSize={8.5} fill={AXIS}>
            {String(v)}
          </text>
        </g>
      ))}
      {p.yTicks.map(v => (
        <g key={'yt' + v}>
          <line x1={left} x2={left + tl} y1={y(v)} y2={y(v)} stroke={AXIS} />
          <line x1={right} x2={right - tl} y1={y(v)} y2={y(v)} stroke={AXIS} />
          {p.log ? (
            <text x={left - 4} y={y(v) + 3} textAnchor="end" fontFamily={SANS} fontSize={8.5} fill={AXIS}>
              10
              <tspan dy={-4} fontSize={6}>
                {String(Math.round(Math.log10(v)))}
              </tspan>
            </text>
          ) : (
            <text x={left - 5} y={y(v) + 3} textAnchor="end" fontFamily={SANS} fontSize={8.5} fill={AXIS}>
              {String(v)}
            </text>
          )}
        </g>
      ))}
      {minor.map(v => (
        <g key={'mt' + v}>
          <line x1={left} x2={left + 3} y1={y(v)} y2={y(v)} stroke={AXIS} strokeWidth={0.8} />
          <line x1={right} x2={right - 3} y1={y(v)} y2={y(v)} stroke={AXIS} strokeWidth={0.8} />
        </g>
      ))}
      <text
        transform={`translate(17,${cy}) rotate(-90)`}
        textAnchor="middle"
        fontFamily={SERIF}
        fontSize={10.5}
        fill="#333"
      >
        {p.yLabel}
      </text>
      <text x={cx} y={bottom + 24} textAnchor="middle" fontFamily={SERIF} fontSize={10.5} fill="#333">
        {p.xLabel}
      </text>
      {p.legend && (
        <g>
          <rect x={p.legend.x} y={p.legend.y} width={p.legend.w} height={40} fill="#fff" stroke={AXIS} strokeWidth={1} />
          {p.series.map((s, i) => {
            const ry = p.legend!.y + 7 + i * 12.8;
            return (
              <g key={'lg' + i}>
                <line
                  x1={p.legend!.x + 3}
                  x2={p.legend!.x + 23}
                  y1={ry}
                  y2={ry}
                  stroke={s.color}
                  strokeWidth={s.width}
                  strokeDasharray={s.dash}
                />
                <text x={p.legend!.x + 25} y={ry + 3.5} fontFamily={SERIF} fontSize={10.5} fill={AXIS}>
                  {s.label}
                </text>
              </g>
            );
          })}
        </g>
      )}
      <text x={315} y={bottom + 59} textAnchor="middle" fontFamily={SERIF} fontSize={24} fill="#000">
        {p.caption}
      </text>
    </g>
  );
}

const it = (s: string) => <tspan fontStyle="italic">{s}</tspan>;
const timeLabel = (
  <>
    Time {it('t')} [{it('s')}]
  </>
);
const freqLabel = (
  <>
    Frequency {it('f')} (Hz)
  </>
);

const panels: PanelSpec[] = [
  {
    id: 'pa',
    top: 5,
    bottom: 186,
    left: 36,
    right: 618,
    xDomain: [100, 130],
    yDomain: [16, 21],
    xTicks: timeTicks,
    yTicks: windTicks,
    yLabel: (
      <>
        Wind Speed {it('v')}({it('t')}) [ms<tspan dy={-4} fontSize={7}>−1</tspan>
        <tspan dy={4}>]</tspan>
      </>
    ),
    xLabel: timeLabel,
    caption: '(a) Hub-height wind speed.',
    series: [{ data: windSpeed, color: '#000', width: 1.1 }],
  },
  {
    id: 'pb',
    top: 257,
    bottom: 435,
    left: 46,
    right: 618,
    xDomain: [100, 130],
    yDomain: [-0.104, 0.143],
    xTicks: timeTicks,
    yTicks: towerTicks,
    curve: d3.curveCatmullRom.alpha(0.5),
    yLabel: (
      <>
        Tower Velocity {it('ẋ')}
        <tspan dy={2} fontSize={7} fontStyle="italic">tt</tspan>
        <tspan dy={-2}>(</tspan>
        {it('t')}) [ms<tspan dy={-4} fontSize={7}>−1</tspan>
        <tspan dy={4}>]</tspan>
      </>
    ),
    xLabel: timeLabel,
    caption: '(b) Tower-top fore-aft velocity.',
    series: [
      { data: towerNoCtrl, color: '#555', width: 1, label: legendLabels[0] },
      { data: towerIndividual, color: '#0000ff', width: 1.2, dash: '4,2.5', label: legendLabels[1] },
      { data: towerCollective, color: '#ff4d4d', width: 0.9, label: legendLabels[2] },
    ],
    legend: { x: 457, y: 258, w: 158 },
  },
  {
    id: 'pc',
    top: 505,
    bottom: 684,
    left: 43,
    right: 618,
    xDomain: [100, 130],
    yDomain: [-1.5, 2.2],
    xTicks: timeTicks,
    yTicks: pitchTicks,
    yLabel: (
      <>
        Pitch rate {it('θ̇')}({it('t')}) [degs<tspan dy={-4} fontSize={7}>−1</tspan>
        <tspan dy={4}>]</tspan>
      </>
    ),
    xLabel: timeLabel,
    caption: '(c) Pitch rate of the blade.',
    series: [
      { data: zip(pitchTime, pitchNoCtrl), color: '#555', width: 1, label: legendLabels[0] },
      { data: zip(pitchTime, pitchIndividual), color: '#0000ff', width: 1.5, dash: '4,2', label: legendLabels[1] },
      { data: zip(pitchTime, pitchCollective), color: '#ff3b3b', width: 0.9, label: legendLabels[2] },
    ],
    legend: { x: 456, y: 507, w: 158 },
  },
  {
    id: 'pd',
    top: 755,
    bottom: 933,
    left: 47,
    right: 618,
    xDomain: [100, 130],
    yDomain: [12.05, 12.205],
    xTicks: timeTicks,
    yTicks: rotorTicks,
    curve: d3.curveCatmullRom.alpha(0.5),
    yLabel: (
      <>
        Rotor speed {it('ω')}({it('t')}) [rpm]
      </>
    ),
    xLabel: timeLabel,
    caption: '(d) Rotational speed of the rotor.',
    series: [
      { data: zip(rotorTime, rotorNoCtrl), color: '#555', width: 1, label: legendLabels[0] },
      { data: zip(rotorTime, rotorIndividual), color: '#0000ff', width: 1.5, dash: '4,2', label: legendLabels[1] },
      { data: zip(rotorTime, rotorCollective), color: '#ff4d4d', width: 0.9, dash: '5,1.5,1,1.5', label: legendLabels[2] },
    ],
    legend: { x: 452, y: 763, w: 157 },
  },
  {
    id: 'pe',
    top: 1003,
    bottom: 1183,
    left: 39,
    right: 619,
    xDomain: [0, 0.8],
    yDomain: [5, 200],
    log: true,
    xTicks: freqTicks,
    yTicks: tiltTicks,
    yLabel: (
      <>
        |{it('M')}
        <tspan dy={2} fontSize={7}>tilt</tspan>
        <tspan dy={-2}>(</tspan>
        {it('f')})| [kNm]
      </>
    ),
    xLabel: freqLabel,
    caption: '(e) Referred tilt loads on the rotor.',
    series: [
      { data: tiltNoCtrl, color: '#555', width: 1, label: legendLabels[0] },
      { data: patch(tiltNoCtrl, tiltIndividualDiff), color: '#0000ff', width: 1, dash: '3,2', label: legendLabels[1] },
      { data: tiltNoCtrl, color: '#ff3b3b', width: 1, dash: '1.5,1.5', label: legendLabels[2] },
    ],
    legend: { x: 452, y: 1007, w: 165 },
  },
  {
    id: 'pf',
    top: 1253,
    bottom: 1434,
    left: 39,
    right: 619,
    xDomain: [0, 0.8],
    yDomain: [1, 500],
    log: true,
    xTicks: freqTicks,
    yTicks: yawTicks,
    yLabel: (
      <>
        |{it('M')}
        <tspan dy={2} fontSize={7} fontStyle="italic">yaw</tspan>
        <tspan dy={-2}>(</tspan>
        {it('f')})| [kNm]
      </>
    ),
    xLabel: freqLabel,
    caption: '(f) Referred yaw loads on the rotor.',
    series: [
      { data: patch(yawNoCtrl, yawIndividualDiff), color: '#555', width: 1, label: legendLabels[0] },
      { data: patch(yawNoCtrl, yawIndividualDiff), color: '#0000ff', width: 1, dash: '3,2', label: legendLabels[1] },
      { data: yawNoCtrl, color: '#ff3b3b', width: 1, dash: '1.5,1.5', label: legendLabels[2] },
    ],
    legend: { x: 454, y: 1258, w: 159 },
  },
];

export default function App() {
  return (
    <svg
      width={624}
      height={1505}
      style={{ position: 'absolute', left: 0, top: 0, background: '#fff', display: 'block' }}
    >
      <rect width={624} height={1505} fill="#fff" />
      {panels.map(p => (
        <Panel key={p.id} p={p} />
      ))}
    </svg>
  );
}
